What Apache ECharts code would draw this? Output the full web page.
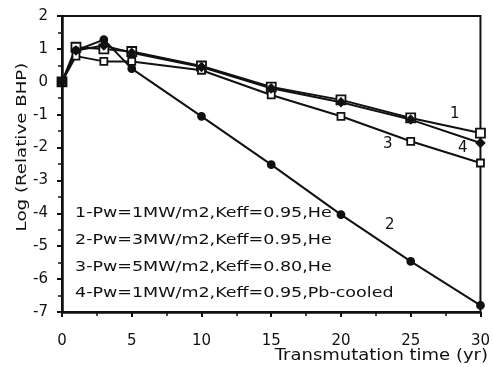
<!DOCTYPE html>
<html>
<head>
<meta charset="utf-8">
<script src="https://cdn.jsdelivr.net/npm/echarts@6/dist/echarts.min.js"></script>
<style>
	html, body { margin: 0; padding: 0; background: #fff; }
	#chart { width: 493px; height: 367px; }
</style>
</head>
<body>
<div id="chart"></div>
<script>
// transmutation time (yr)
const years = [0, 1, 3, 5, 10, 15, 20, 25, 30];
// log(relative BHP) for each case
const case1 = [0, 1.05, 1.0, 0.92, 0.48, -0.16, -0.55, -1.1, -1.56];
const case2 = [0, 0.95, 1.28, 0.4, -1.05, -2.52, -4.04, -5.46, -6.8];
const case3 = [0, 0.78, 0.62, 0.62, 0.35, -0.4, -1.05, -1.81, -2.47];
const case4 = [0, 0.95, 1.1, 0.88, 0.45, -0.2, -0.62, -1.15, -1.86];
const legendLines = [
	'1-Pw=1MW/m2,Keff=0.95,He',
	'2-Pw=3MW/m2,Keff=0.95,He',
	'3-Pw=5MW/m2,Keff=0.80,He',
	'4-Pw=1MW/m2,Keff=0.95,Pb-cooled'
];

const chart = echarts.init(document.getElementById('chart'));
const font = 'DejaVu Sans';

const pair = arr => years.map((x, i) => [x, arr[i]]);

const mkSeries = (data, symbol, size, filled) => ({
	type: 'line',
	data: pair(data),
	symbol: symbol,
	symbolSize: size,
	showSymbol: true,
	lineStyle: { color: '#111', width: 2 },
	itemStyle: {
		color: filled ? '#111' : '#fff',
		borderColor: '#111',
		borderWidth: 1.8
	},
	z: 3
});

const axisCommon = {
	axisLine: { show: true, onZero: false, lineStyle: { color: '#111', width: 2.5 } },
	axisTick: { show: true, inside: false, length: 5, lineStyle: { color: '#111', width: 2 } },
	minorTick: { show: true, splitNumber: 2, length: 4, lineStyle: { color: '#111', width: 1.5 } },
	splitLine: { show: false }
};

let option = {
	animation: false,
	backgroundColor: '#fff',
	grid: {
		left: 62,
		right: 10,
		top: 16,
		bottom: 55,
		show: true,
		borderColor: '#111',
		borderWidth: 2
	},
	xAxis: Object.assign({
		type: 'value',
		min: 0,
		max: 30,
		interval: 5,
		axisLabel: { color: '#111', fontFamily: font, fontSize: 15, margin: 22 }
	}, axisCommon),
	yAxis: Object.assign({
		type: 'value',
		min: -7,
		max: 2,
		interval: 1,
		axisLabel: { color: '#111', fontFamily: font, fontSize: 15, margin: 14 }
	}, axisCommon),
	series: [
		mkSeries(case1, 'rect', 9, false),
		mkSeries(case2, 'circle', 7, true),
		mkSeries(case3, 'rect', 7, false),
		mkSeries(case4, 'diamond', 8, true)
	],
	graphic: []
};

// axis titles (drawn wide like the original lettering)
option.graphic.push({
	type: 'text',
	x: 488,
	y: 356,
	scaleX: 1.2,
	style: {
		text: 'Transmutation time (yr)', fill: '#111',
		font: '15px "' + font + '"', align: 'right', verticalAlign: 'middle'
	}
});
option.graphic.push({
	type: 'text',
	x: 22,
	y: 147,
	rotation: Math.PI / 2,
	scaleX: 1.3,
	style: {
		text: 'Log (Relative BHP)', fill: '#111',
		font: '14px "' + font + '"', align: 'center', verticalAlign: 'middle'
	}
});

// legend text inside the plot
const legendY = [213, 240, 267, 293];
legendLines.forEach((t, i) => {
	option.graphic.push({
		type: 'text',
		x: 75,
		y: legendY[i],
		scaleX: 1.25,
		style: { text: t, fill: '#111', font: '14px "' + font + '"', verticalAlign: 'middle' }
	});
});

// curve numbers
[['1', 450, 107], ['2', 385, 218], ['3', 383, 137], ['4', 458, 141]].forEach(l => {
	option.graphic.push({
		type: 'text',
		left: l[1],
		top: l[2],
		style: { text: l[0], fill: '#111', font: '15px "' + font + '"' }
	});
});

chart.setOption(option);
</script>
</body>
</html>
